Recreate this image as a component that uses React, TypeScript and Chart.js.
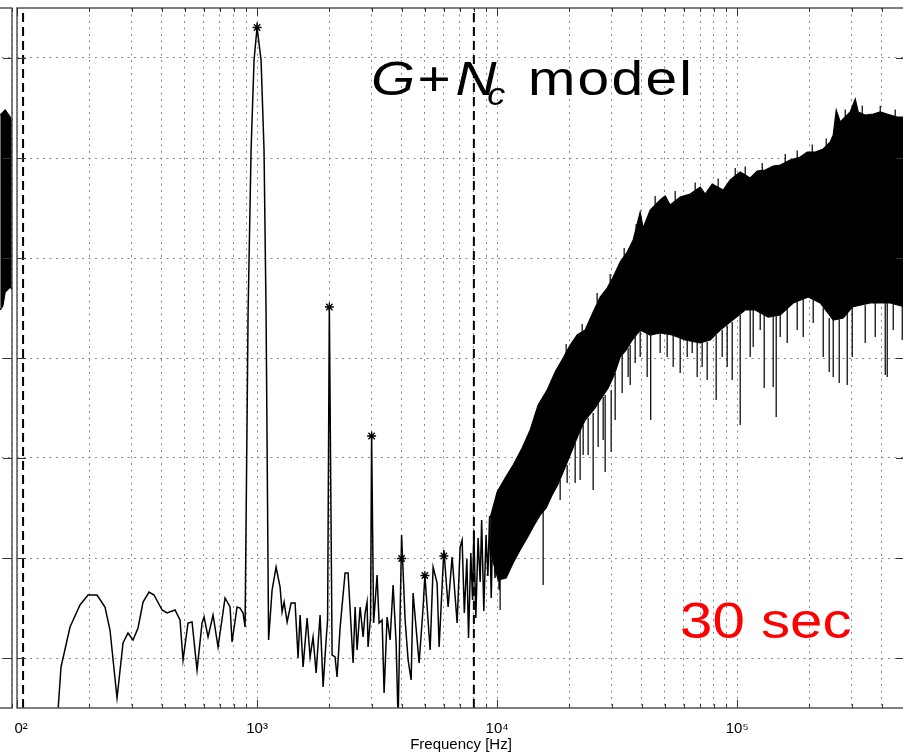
import React, { useEffect, useRef } from 'react';
import { Chart, registerables } from 'chart.js';

Chart.register(...registerables);

const FONT = "'Liberation Sans', Arial, Helvetica, sans-serif";

// ---- axes ----
const X_MIN = 100;
const X_MAX = 500000;
const Y_MIN = -130;
const Y_MAX = 10;
const Y_TICKS = [-120, -100, -80, -60, -40, -20, 0];
const X_GRID = [
  100, 200, 300, 400, 500, 600, 700, 800, 900,
  1000, 2000, 3000, 4000, 5000, 6000, 7000, 8000, 9000,
  10000, 20000, 30000, 40000, 50000, 60000, 70000, 80000, 90000,
  100000, 200000, 300000, 400000, 500000,
];
const MAJOR_TICKS = [100, 1000, 10000, 100000];
const MAJOR_LABELS = ['10²', '10³', '10⁴', '10⁵'];
const X_TITLE = 'Frequency [Hz]';

// ---- data: [frequency Hz, level dB] ----
const LOW_SPECTRUM = [
  [146.8, -133.4], [152.5, -121.8], [166.3, -113.8], [183.0, -109.4], [197.6, -107.4],
  [215.4, -107.4], [232.6, -109.8], [244.0, -114.4], [261.0, -128], [276.5, -117],
  [290.0, -115], [304.2, -116.4], [319.3, -114], [335.0, -108.8], [354.8, -106.8],
  [372.3, -107.4], [402.1, -110.4], [421.7, -111], [455.3, -110.4], [477.6, -112.4],
  [491.6, -120.4], [515.7, -113], [536.0, -112.8], [562.3, -122.4], [590.0, -113],
  [601.4, -111.8], [624.9, -115.8], [655.6, -111.4], [687.8, -117.8], [735.6, -108],
  [771.8, -109.8], [786.7, -116.8], [825.4, -109.8], [849.5, -110], [874.3, -111],
  [891.3, -113.8], [917.6, -50.6], [944.1, -18.4], [971.6, -0.4], [1000, 6.1],
  [1039, -0.4], [1069, -18.4], [1090, -50.6], [1117, -116.4], [1155, -106.4],
  [1200, -101.8], [1247, -105.8], [1271, -110.8], [1296, -108.8], [1334, -112.8],
  [1386, -109], [1440, -109], [1482, -120], [1511, -111.4], [1555, -121.8],
  [1616, -112], [1663, -119.8], [1711, -115.8], [1762, -123], [1830, -111.4],
  [1884, -125.8], [1939, -116.4], [1967, -112.4], [2000, -49.8], [2054, -119.4],
  [2113, -119.8], [2154, -123.8], [2217, -114], [2326, -103], [2394, -103],
  [2464, -113.8], [2512, -121], [2561, -109.8], [2610, -118.4], [2687, -109.8],
  [2765, -115.8], [2818, -111], [2872, -108.8], [2900, -117.8], [2970, -111.8],
  [3000, -75.6], [3058, -113], [3162, -103.4], [3224, -113], [3318, -112.4],
  [3382, -127], [3481, -111.8], [3583, -116.4], [3687, -105.4], [3795, -117],
  [3868, -132.4], [4000, -95.4], [4137, -112.4], [4258, -120.4], [4383, -124.4],
  [4467, -107], [4642, -116.4], [4732, -121], [4918, -109.8], [5000, -103.4],
  [5259, -118.4], [5412, -101.8], [5623, -105], [5733, -117.8], [6000, -98.4],
  [6249, -109.8], [6494, -99.8], [6813, -113], [7013, -97.8], [7148, -96.4],
  [7300, -111], [7480, -100.2], [7600, -116], [7770, -99], [7900, -108.4],
  [8000, -94.4], [8150, -112], [8330, -96], [8500, -104.8], [8620, -92.4],
  [8800, -110.6], [8990, -95.4], [9150, -103.6], [9300, -91.6], [9450, -108],
  [9620, -90.4], [9800, -104], [10000, -88.6], [10200, -106.4], [10400, -89.4],
  [10690, -103.6],
];

const BAND_UPPER = [
  [9350, -92], [10000, -86.8],
  [10798, -84], [11659, -81.4], [12712, -78], [13725, -74.4], [14819, -69.4],
  [16156, -66.4], [17444, -62.8], [18836, -60], [20146, -57.4], [21544, -55.4],
  [23263, -54.4], [25119, -50.8], [26864, -47.8], [28729, -46], [30427, -43.8],
  [32546, -40.8], [34807, -38.8], [36869, -36.4], [39432, -30.8], [40582, -34],
  [43401, -30.4], [47772, -28.4], [50119, -27.6], [52584, -29.4], [57876, -27.8],
  [63703, -27.2], [70132, -25.8], [73564, -27.2], [78677, -25.2], [87419, -26.4],
  [93506, -24.4], [102920, -22.8], [113290, -24], [121150, -22.6], [130830, -22.4],
  [141250, -21.6], [151090, -21.4], [166280, -20.4], [183020, -19.8], [195730, -18.8],
  [211350, -18.8], [228220, -18.2], [244060, -16.8], [251190, -15.4], [258520, -10.4],
  [268640, -12.8], [281840, -11.8], [295660, -10.8], [310240, -8.2], [319290, -10.8],
  [341450, -11.4], [368690, -11.2], [394320, -10.8], [434010, -11.4], [464160, -11.8],
  [500000, -11.8],
];

const BAND_LOWER = [
  [9350, -97], [9532, -100], [10097, -104.4],
  [10901, -104], [11659, -101], [12468, -98.4], [13335, -96],
  [14125, -93.8], [15109, -91.4], [16003, -90], [16949, -87.4], [17952, -85.2],
  [18836, -82.8], [20146, -79.4], [21752, -75.4], [23263, -72.4], [25603, -70],
  [26864, -68.4], [29006, -66], [30726, -63.4], [32546, -59.8], [34473, -58.4],
  [36517, -56.4], [39432, -54.4], [43401, -55.4], [47772, -55], [53601, -55.4],
  [60719, -56.4], [70132, -57], [77179, -56.4], [84965, -54.4], [98110, -52],
  [107980, -50.4], [118850, -50.4], [134650, -51.8], [151090, -51.4], [171130, -49],
  [197600, -47.8], [221750, -49], [251190, -52.4], [276500, -52], [301430, -49.8],
  [358260, -49], [434010, -49], [500000, -49.8],
];

// downward spikes below the band: [frequency Hz, from dB, to dB]
const BAND_DIPS = [
  [10292, -104, -110.4], [15550, -90.8, -105.4], [18302, -84.4, -88.4],
  [19573, -81.4, -85], [21135, -76.4, -85], [22170, -74.5, -84.4], [22822, -73.4, -79.4],
  [23940, -72, -79.4], [25119, -71, -86.4], [26351, -68.8, -77.8], [27650, -67.8, -76.4],
  [28184, -67.4, -82.8], [29854, -66.4, -78.8], [31020, -63, -72.4], [33174, -59.4, -67],
  [35137, -58, -63.8], [35830, -57.4, -65.4], [37584, -55.5, -61], [39432, -54.4, -59.8],
  [42170, -54.8, -63.8], [43612, -55, -72.4], [47772, -55, -59], [51090, -55.2, -59.8],
  [54120, -55.4, -61.8], [57876, -55.8, -63], [61900, -56.4, -59.8], [64940, -56.6, -59],
  [68129, -56.8, -63.8], [71480, -57, -61.8], [74989, -56.8, -64.4], [81750, -55.4, -68.4],
  [86600, -54.4, -59.8], [90850, -53.5, -61.8], [95320, -52.8, -64.4], [102920, -51.4, -73.4],
  [113290, -50.4, -59.8], [116600, -50.4, -57.8], [124700, -50.8, -54.4], [129570, -51.2, -66],
  [141250, -51.6, -65.8], [145380, -51.6, -71.8], [151090, -51.4, -55.8], [161560, -50, -57],
  [177800, -48.8, -54.4], [188360, -48, -55.8], [207330, -48.4, -53], [228220, -50, -59.8],
  [241700, -52, -62.8], [251190, -52.4, -63.8], [266070, -52.2, -65], [287290, -51, -65.4],
  [301430, -49.8, -59.8], [341450, -49.4, -57], [375800, -49, -55.8], [413710, -49, -63.4],
  [421700, -49, -63.8], [446700, -49, -54.4], [486970, -49.4, -56.4],
];

// short upward hairs on the top of the band: [frequency Hz, from dB, to dB]
const BAND_HAIRS = [
  [19390, -59, -57.2], [22600, -55, -53.2], [26100, -49, -47], [29570, -45, -43.2],
  [33820, -40, -38], [37950, -35, -33.2], [45520, -29.4, -27.6], [55170, -28.6, -26.6],
  [66830, -26.8, -24.9], [83330, -25.8, -24.1], [98110, -23.6, -22], [107980, -23.4, -21.7],
  [127100, -22.5, -21], [158500, -21, -19.2], [177800, -20.1, -18.5], [205400, -18.8, -17.3],
  [234900, -17.6, -16.1], [281840, -11.8, -10.3], [331800, -11.1, -9.5], [394320, -10.8, -9.6],
  [455200, -11.6, -10.3],
];

const PEAK_MARKERS = [
  [1000, 6.1], [2000, -49.8], [3000, -75.6], [4000, -100.1], [5000, -103.5], [6000, -99.6],
];

const CUTOFF_FREQS = [106, 8000];

// right edge of the neighbouring (previous) panel
const PREV_UPPER = [[446700, -11.4], [468500, -10.4], [491600, -11.8], [500000, -12.4]];
const PREV_LOWER = [[446700, -50.4], [458000, -49.6], [468500, -46.8], [491600, -45.8], [500000, -46.4]];

const pts = (arr: number[][]) => arr.map(([x, y]) => ({ x, y }));
const segs = (arr: number[][]) => {
  const out: any[] = [];
  arr.forEach(([x, a, b]) => {
    out.push({ x, y: a }, { x, y: b }, { x, y: null });
  });
  return out;
};

const boxPlugin = {
  id: 'matlabBox',
  afterDraw(chart: any) {
    const { ctx, chartArea: a, scales } = chart;
    ctx.save();
    ctx.strokeStyle = '#555';
    ctx.lineWidth = 1.5;
    ctx.strokeRect(a.left, a.top, a.right - a.left, a.bottom - a.top);
    ctx.strokeStyle = '#333';
    ctx.lineWidth = 1;
    const seg = (x1: number, y1: number, x2: number, y2: number) => {
      ctx.beginPath();
      ctx.moveTo(x1, y1);
      ctx.lineTo(x2, y2);
      ctx.stroke();
    };
    const xs = scales.x;
    xs.ticks.forEach((t: any) => {
      const px = Math.round(xs.getPixelForValue(t.value)) + 0.5;
      const len = MAJOR_TICKS.includes(t.value) ? 8 : 4;
      seg(px, a.bottom, px, a.bottom - len);
      seg(px, a.top, px, a.top + len);
    });
    const ys = scales.y;
    ys.ticks.forEach((t: any) => {
      const py = Math.round(ys.getPixelForValue(t.value)) + 0.5;
      seg(a.left, py, a.left + 9, py);
      seg(a.right, py, a.right - 9, py);
    });
    ctx.restore();
  },
};

// the neighbouring panel is opaque: it hides what lies left of its right border
const whiteLeftPlugin = {
  id: 'whiteLeft',
  beforeDraw(chart: any) {
    const { ctx, chartArea: a } = chart;
    ctx.save();
    ctx.fillStyle = '#ffffff';
    ctx.fillRect(0, 0, a.right, chart.height);
    ctx.fillRect(0, a.bottom + 2, a.right + 2.5, chart.height - a.bottom);
    ctx.restore();
  },
};

function makeOptions() {
  return {
    responsive: false,
    animation: false,
    events: [],
    layout: { padding: { top: 8, right: 15, left: 0, bottom: 0 } },
    plugins: { legend: { display: false }, tooltip: { enabled: false } },
    elements: { line: { tension: 0 }, point: { radius: 0 } },
    scales: {
      x: {
        type: 'logarithmic',
        min: X_MIN,
        max: X_MAX,
        afterBuildTicks: (s: any) => {
          s.ticks = X_GRID.map((v) => ({ value: v }));
        },
        afterFit: (s: any) => {
          s.height = 47;
          s.paddingLeft = 0;
          s.paddingRight = 0;
        },
        ticks: {
          autoSkip: false,
          maxRotation: 0,
          minRotation: 0,
          padding: 12,
          color: '#000',
          font: { family: FONT, size: 15 },
          callback: (v: any) => {
            const i = MAJOR_TICKS.indexOf(Number(v));
            return i >= 0 ? MAJOR_LABELS[i] : '';
          },
        },
        grid: { color: '#8a8a8a', lineWidth: 1, drawTicks: false },
        border: { display: false, dash: [2, 4.5] },
        title: {
          display: true,
          text: X_TITLE,
          color: '#000',
          font: { family: FONT, size: 15 },
          padding: { top: 0, bottom: 1 },
        },
      },
      y: {
        type: 'linear',
        min: Y_MIN,
        max: Y_MAX,
        afterBuildTicks: (s: any) => {
          s.ticks = Y_TICKS.map((v) => ({ value: v }));
        },
        afterFit: (s: any) => {
          s.width = 17;
        },
        ticks: { display: false },
        grid: { color: '#8a8a8a', lineWidth: 1, drawTicks: false },
        border: { display: false, dash: [2, 4.5] },
      },
    },
  };
}

export default function App() {
  const mainRef = useRef<HTMLCanvasElement | null>(null);
  const prevRef = useRef<HTMLCanvasElement | null>(null);

  useEffect(() => {
    if (!mainRef.current || !prevRef.current) return;
    const black = '#000000';
    const mainChart = new Chart(mainRef.current, {
      type: 'line',
      data: {
        datasets: [
          {
            label: 'peaks',
            data: pts(PEAK_MARKERS),
            showLine: false,
            pointStyle: 'star',
            pointRadius: 4.5,
            pointBorderColor: black,
            pointBorderWidth: 1.3,
            pointBackgroundColor: 'rgba(0,0,0,0)',
          },
          {
            label: 'spectrum',
            data: pts(LOW_SPECTRUM),
            borderColor: black,
            borderWidth: 1.5,
            pointRadius: 0,
            fill: false,
          },
          {
            label: 'dips',
            data: segs(BAND_DIPS),
            borderColor: '#111',
            borderWidth: 1.3,
            pointRadius: 0,
            fill: false,
            spanGaps: false,
          },
          {
            label: 'hairs',
            data: segs(BAND_HAIRS),
            borderColor: black,
            borderWidth: 1.2,
            pointRadius: 0,
            fill: false,
            spanGaps: false,
          },
          {
            label: 'band lower',
            data: pts(BAND_LOWER),
            borderColor: black,
            borderWidth: 1.2,
            pointRadius: 0,
            fill: false,
          },
          {
            label: 'band upper',
            data: pts(BAND_UPPER),
            borderColor: black,
            borderWidth: 1.2,
            pointRadius: 0,
            backgroundColor: black,
            fill: '-1',
          },
          ...CUTOFF_FREQS.map((f) => ({
            label: 'cutoff ' + f,
            data: [{ x: f, y: Y_MIN }, { x: f, y: Y_MAX }],
            borderColor: black,
            borderWidth: 2,
            borderDash: [9, 5],
            pointRadius: 0,
            fill: false,
          })),
        ],
      },
      options: makeOptions() as any,
      plugins: [boxPlugin],
    });

    const prevChart = new Chart(prevRef.current, {
      type: 'line',
      data: {
        datasets: [
          {
            label: 'prev lower',
            data: pts(PREV_LOWER),
            borderColor: black,
            borderWidth: 1.2,
            pointRadius: 0,
            fill: false,
          },
          {
            label: 'prev upper',
            data: pts(PREV_UPPER),
            borderColor: black,
            borderWidth: 1.2,
            pointRadius: 0,
            backgroundColor: black,
            fill: '-1',
          },
        ],
      },
      options: makeOptions() as any,
      plugins: [whiteLeftPlugin, boxPlugin],
    });

    return () => {
      mainChart.destroy();
      prevChart.destroy();
    };
  }, []);

  return (
    <div
      style={{
        position: 'absolute',
        left: 0,
        top: 0,
        width: 903,
        height: 755,
        overflow: 'hidden',
        background: '#ffffff',
      }}
    >
      <canvas ref={mainRef} width={920} height={755} style={{ position: 'absolute', left: 0, top: 0 }} />
      <canvas ref={prevRef} width={920} height={755} style={{ position: 'absolute', left: -893, top: 0 }} />
      <div
        style={{
          position: 'absolute',
          left: 371,
          top: 53.5,
          fontFamily: FONT,
          fontSize: 49,
          lineHeight: '49px',
          whiteSpace: 'nowrap',
          color: '#000',
          transform: 'scaleX(1.16)',
          transformOrigin: '0 0',
        }}
      >
        <i>G</i>
        <span style={{ marginLeft: 2 }}>+</span>
        <i style={{ marginLeft: 4 }}>N</i>
        <i style={{ fontSize: 31, position: 'relative', top: 10, marginLeft: -8 }}>c</i>
        <span style={{ marginLeft: 4, letterSpacing: 2 }}> model</span>
      </div>
      <div
        style={{
          position: 'absolute',
          left: 679.5,
          top: 595.7,
          fontFamily: FONT,
          fontSize: 50,
          lineHeight: '50px',
          whiteSpace: 'nowrap',
          color: '#ff0000',
          transform: 'scaleX(1.165)',
          transformOrigin: '0 0',
        }}
      >
        30 sec
      </div>
    </div>
  );
}
